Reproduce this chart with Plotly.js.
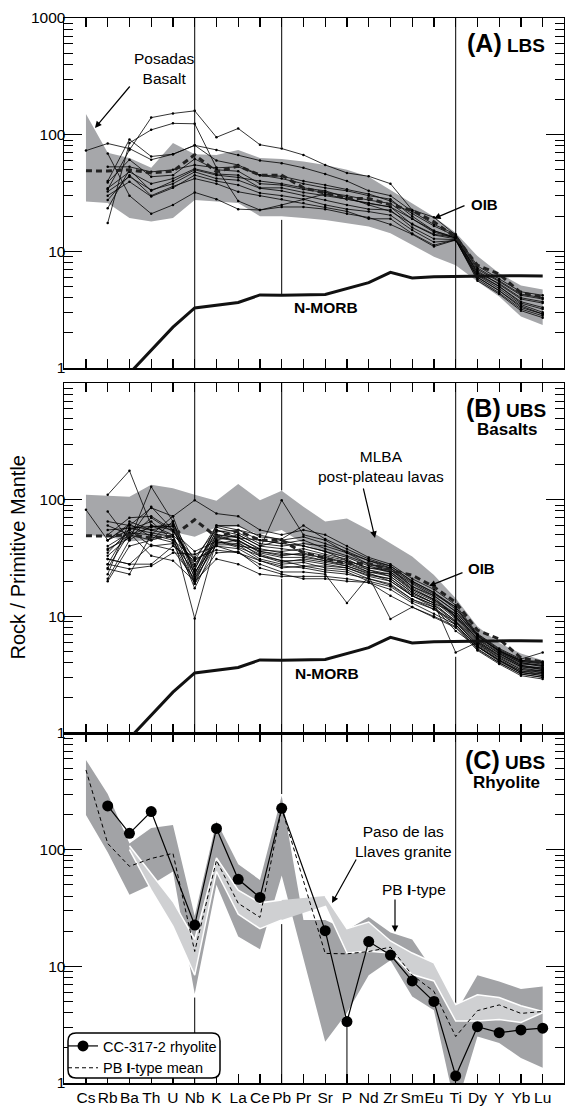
<!DOCTYPE html>
<html><head><meta charset="utf-8">
<script src="https://cdn.plot.ly/plotly-3.0.1.min.js"></script>
<style>html,body{margin:0;padding:0;background:#fff;}#chart{width:565px;height:1118px;}</style>
</head><body><div id="chart"></div>
<script>
// ---------------- DATA ----------------
const elements = ['Cs','Rb','Ba','Th','U','Nb','K','La','Ce','Pb','Pr','Sr','P','Nd','Zr','Sm','Eu','Ti','Dy','Y','Yb','Lu'];
const yTickVals = [1,10,100,1000];
const yTickTextA = ['1','10','100','1000'];
const yTickTextBC = ['1','10','100',''];
const yMinorVals = [2,3,4,5,6,7,8,9,20,30,40,50,60,70,80,90,200,300,400,500,600,700,800,900];

// reference compositions (normalised to primitive mantle)
const nmorb = [0.22,0.88,0.9,1.41,2.24,3.27,null,3.64,4.23,4.2,null,4.27,null,5.39,6.6,5.92,6.07,6.1,6.17,6.15,6.19,6.15];
const oib   = [49,48.8,50,47,48.6,67.3,48,53.9,45,45,35,31.3,28.4,28.4,25,22.5,17.9,13.2,7.6,6.4,4.4,4.05];

// (A) LBS - Posadas Basalt field and samples
const fieldA_upper = [150,70,63,52,85,68,67,74,63,62,59,55,50,43.6,33.6,26,19.8,14.4,9.1,6.5,5.1,4.7];
const fieldA_lower = [26.7,26,19.3,18,19.3,27.5,26.7,26,20,20,19.3,18.6,17.5,16.3,14.3,11.3,9,7.6,5.5,4.1,2.76,2.34];
const lbs1  = [null,34,74,140,152,160,95,113,82,76,67,55,47,44,38,22.6,19.6,13.8,7.2,5.6,4.3,4.0];
const lbs2  = [null,17.5,85,110,125,124,52,27,22.6,25,28,31,28,26,24,19,15,13.2,6.5,5.0,3.7,3.3];
const lbs3  = [73,84,76,61,68,81,74,67,60,57,52,46,40,33,30,22,17,14,7.5,5.8,4.5,4.2];
const lbs4  = [null,69,30,21,25,32,28,23,22.6,24,24,23,21,19.5,17,14,11,12.5,6.0,4.6,3.3,2.9];
const lbs5  = [null,53,53,48,50,55,52,53,45,42,38,35,33,30,28,20,15,13,6.8,5.2,3.9,3.6];
const lbs6  = [null,39,61,43.6,45,62,50,48.6,38,37,34,32,30,27.5,25.7,19,14.6,13,6.3,5.0,3.6,3.2];
const lbs7  = [null,34.7,48,38,42,51,46,45,35,35,32,30,28,25.7,24,17,13.8,12.8,6.2,4.8,3.5,3.0];
const lbs8  = [null,32.5,43.6,33.6,38,48,42,40.7,34.7,33,30,27.5,25,23,22.6,16,12.8,12.6,6.0,4.6,3.4,2.9];
const lbs9  = [null,30,39.5,29.5,35,45,40,37,31.6,30,28,25,23,21.9,20.4,15.2,12,12.4,5.8,4.4,3.2,2.8];
const lbs10 = [null,27.5,45,30,36,42,38,32.4,30,28,26,24,22,19,19,14.2,11.3,12.6,5.6,4.3,3.1,2.7];
const lbs11 = [null,23.4,50,33,40,50,45,43,40,38,35,33,29,25,22,17.2,14,13.2,6.6,5.3,4.0,3.7];
const lbs12 = [null,40,91,65,68,81,60,55,45,44,40,37,34,31,27,21,16.5,13.5,7.0,5.5,4.2,3.9];

// (B) UBS basalts - MLBA post-plateau lavas field and samples
const fieldB_upper = [110,108,106,134,125,110,98,136,99,119,87,65,69,55,42,32.5,22.6,14.3,8.2,5.9,4.8,4.2];
const fieldB_lower = [50,48,44,45,53,48,58,58.6,50,55,42,35,32,27,23,18,14.8,9.3,6.7,4.8,3.6,3.2];
const ubs1  = [82,45,60,55,50,32,55,50,40,45,40,36,30,26,24,17,14,10,6.2,4.6,3.7,3.6];
const ubs2  = [null,110,177,60,55,25,60,55,45,42,45,38,33,28,26,18,15,11,6.8,5,4.2,4.0];
const ubs3  = [null,79,45,129,65,21,50,48,37,36,38,34,31,25,22,16,13,10.5,6.3,4.8,3.9,3.8];
const ubs4  = [null,65,60,85,72,99,76,72,55,50,55,50,40,32,28,21,17,12.5,7.1,5.3,4.3,4.9];
const ubs5  = [null,55,57,59,59,19,48,45,36,33,35,31,29,24,23,16.5,13.5,9.5,6,4.5,3.6,3.4];
const ubs6  = [null,45,55,65,45,20,45,50,40,38,36,33,30,26,25,18,14.5,10,6.5,4.9,4.0,3.7];
const ubs7  = [null,40,52,50,72,23,55,47,38,99,50,45,35,28,25,19,15,11,6.6,5.1,4.1,3.9];
const ubs8  = [null,37,50,45,50,17.4,42,45,35,32,32,30,27,23,21,15.5,13,9,5.8,4.4,3.5,3.3];
const ubs9  = [null,33,48,87,55,28,50,43,33,30,30,28,26,22,20,15,12.5,8.8,5.7,4.3,3.4,3.2];
const ubs10 = [null,31,28,41,37,21,41,41,31,28,29,26,25,21,19,14,12,8.5,5.5,4.1,3.3,3.1];
const ubs11 = [null,28,25.5,27,35,34,40,38,30,26,27,25,24,20,18,13.5,11.5,9,5.6,4.2,3.4,3.3];
const ubs12 = [null,25.5,23,50,45,31,37,35,28,24,24,23,13,22,9.5,12,10,8.2,5.3,4.0,3.2,3.0];
const ubs13 = [null,23,65,55,60,25.5,58,52,42,40,42,40,35,30,27,20,16,11.5,6.9,5.1,4.1,4.0];
const ubs14 = [null,21,45,60,50,9.6,45,40,38,35,33,30,28,24,22,16,13,4.9,6.0,4.6,3.7,3.5];
const ubs15 = [null,20,40,45,65,23,50,47,45,42,40,36,32,27,24,17.5,14,10.5,6.4,4.8,3.8,3.5];
const ubs16 = [null,50,70,72,55,27,53,55,50,45,48,42,36,30,26,19.5,15.5,12,7.0,5.2,4.2,4.1];
const ubs17 = [null,35,55,40,42,19,35,36,26,23,21,21,20,19.5,15,12,9.8,8,5.1,3.9,3.1,2.9];
const ubs18 = [null,60,50,58,62,30,60,60,48,46,60,46,38,31,27,20,16,12,6.8,5,4,3.8];
const ubs19 = [null,28,57,52,48,22,47,44,36,34,34,32,29,25,23,17,13.8,9.8,6.1,4.7,3.8,3.6];
const ubs20 = [null,45,62,48,43,24,43,42,34,30,27,27,26,22.5,21,15,12.5,9.2,5.9,4.4,3.5,3.4];
const ubs21 = [null,38,47,70,53,36,44,39,33,29,31,29,27,23.5,20,15,12,7.5,5.5,4.2,3.3,3.1];
const ubs22 = [null,26,52,33,30,20,31,28,23,22,22,22,21,19.5,17,13,10.5,8.5,5.2,4.0,3.2,3.0];
const ubs23 = [null,31,28,28,40,30,40,35,30,27,26,24,23,21,18.5,14,11.5,8.5,5.5,4.2,3.3,3.2];

// (C) UBS rhyolite
const pbField_upper  = [588,300,113,153,163,27,175,75,55,290,25,25,20.5,26.5,19.5,17,9,4,8.4,7.4,6.4,6.7];
const pbField_lower  = [198,95,41,50,65,5.8,50,18,14,60,null,2.26,4,8.4,11.3,5.5,4.2,0.6,2.5,2.2,1.64,1.35];
const pllField_upper = [null,null,108,62,36,17,85,45,35,37,null,40,21,24,16.5,13,10.7,4.7,5.7,5.4,4.6,4.1];
const pllField_lower = [null,null,100,45,22,8.4,65,28,21,25,null,33,13,13.5,13,8.5,7.5,3.4,3.4,3.5,3.3,4.0];
const pbItypeMean = [482,113,72,84,93,13.4,81,34.7,26.3,226,null,12.9,12.8,13.4,14.6,8.4,6.1,2.5,4.17,4.67,3.95,4.1];
const cc3172 = [null,237,138,212,null,22.6,152,55.7,39,226,null,20.2,3.36,16.3,12.5,7.5,5.0,1.15,3.04,2.7,2.85,2.95];

// vertical guide lines: element -> visible value segments per panel
const guidesA = {Nb:[[1,1000]], Pb:[[78,1000],[4.2,18.6]], Ti:[[1,1000]]};
const guidesB = {Nb:[[100,1000],[1,9.5]], Pb:[[120,1000],[1,21]], Ti:[[13,1000],[1,4.5]]};
const guidesC = {Nb:[[1,5.4]], Pb:[[300,1000],[1,23]], Ti:[[4.8,1000]], P:[[1,3.36]]};

const lbsSamples = [lbs1,lbs2,lbs3,lbs4,lbs5,lbs6,lbs7,lbs8,lbs9,lbs10,lbs11,lbs12];
const ubsSamples = [ubs1,ubs2,ubs3,ubs4,ubs5,ubs6,ubs7,ubs8,ubs9,ubs10,ubs11,ubs12,ubs13,ubs14,ubs15,ubs16,ubs17,ubs18,ubs19,ubs20,ubs21,ubs22,ubs23];

// ---------------- LAYOUT HELPERS ----------------
const FONT = 'Liberation Sans, Arial, Helvetica, sans-serif';
const W = 565, H = 1118, ML = 64, MR = 1, MT = 18, MB = 35;
const PW = W - ML - MR, PH = H - MT - MB;
const px2x = x => (x - ML) / PW;
const py2y = y => (H - MB - y) / PH;
const AX = {A:['x3','y3'], B:['x2','y2'], C:['x','y']};

const traces = [];
function lineTrace(panel, y, extra){
  return Object.assign({type:'scatter', mode:'lines', x:elements, y:y,
    xaxis:AX[panel][0], yaxis:AX[panel][1], showlegend:false, hoverinfo:'skip', connectgaps:true}, extra);
}
function fieldTrace(panel, upper, lower, color){
  const xs = [], ys = [];
  elements.forEach((e,i)=>{ if(upper[i]!=null){ xs.push(e); ys.push(upper[i]); } });
  for(let i=elements.length-1;i>=0;i--){ if(lower[i]!=null){ xs.push(elements[i]); ys.push(lower[i]); } }
  return {type:'scatter', mode:'lines', x:xs, y:ys, fill:'toself', fillcolor:color,
    line:{width:0, color:color}, xaxis:AX[panel][0], yaxis:AX[panel][1], showlegend:false, hoverinfo:'skip'};
}
function guideTrace(panel, guides){
  const xs = [], ys = [];
  Object.keys(guides).forEach(el=>{
    guides[el].forEach(seg=>{ xs.push(el, el, el); ys.push(seg[0], seg[1], null); });
  });
  return {type:'scatter', mode:'lines', x:xs, y:ys, connectgaps:false, line:{color:'#000', width:1},
    xaxis:AX[panel][0], yaxis:AX[panel][1], showlegend:false, hoverinfo:'skip'};
}

const GREY = '#a6a7aa';
// Panel A
traces.push(fieldTrace('A', fieldA_upper, fieldA_lower, GREY));
traces.push(guideTrace('A', guidesA));
lbsSamples.forEach(s => traces.push(lineTrace('A', s, {mode:'lines+markers', connectgaps:false,
  line:{color:'#000', width:0.8}, marker:{color:'#000', size:2.5}})));
traces.push(lineTrace('A', oib, {line:{color:'#222', width:3, dash:'6px,4px'}}));
traces.push(lineTrace('A', nmorb, {line:{color:'#111', width:3}}));
// Panel B
traces.push(fieldTrace('B', fieldB_upper, fieldB_lower, GREY));
traces.push(guideTrace('B', guidesB));
ubsSamples.forEach(s => traces.push(lineTrace('B', s, {mode:'lines+markers', connectgaps:false,
  line:{color:'#000', width:0.8}, marker:{color:'#000', size:2.5}})));
traces.push(lineTrace('B', oib, {line:{color:'#222', width:3, dash:'6px,4px'}}));
traces.push(lineTrace('B', nmorb, {line:{color:'#111', width:3}}));
// Panel C
traces.push(guideTrace('C', guidesC));
traces.push(fieldTrace('C', pbField_upper, pbField_lower, '#a2a3a6'));
traces.push(fieldTrace('C', pllField_upper, pllField_lower, '#cfd0d2'));
traces.push(lineTrace('C', pllField_upper, {connectgaps:false, line:{color:'#fff', width:1.5}}));
traces.push(lineTrace('C', pllField_lower, {connectgaps:false, line:{color:'#fff', width:1.5}}));
traces.push(lineTrace('C', cc3172, {name:'CC-317-2 rhyolite', showlegend:true, mode:'lines+markers',
  line:{color:'#000', width:1.2}, marker:{color:'#000', size:11}}));
traces.push(lineTrace('C', pbItypeMean, {name:'PB <b>I</b>-type mean', showlegend:true,
  line:{color:'#000', width:1, dash:'4px,3px'}}));

function xAxis(anchor, labels){
  return {type:'category', categoryorder:'array', categoryarray:elements, range:[-1.01,21.98],
    anchor:anchor, showline:true, linecolor:'#000', linewidth:1.5, mirror:'ticks',
    ticks:'inside', ticklen:9, tickwidth:1.2, tickcolor:'#000', showgrid:false, zeroline:false,
    showticklabels:labels, tickangle:0, tickfont:{family:FONT, size:15.5, color:'#000'}, fixedrange:true};
}
function yAxis(anchor, domain, ticktext){
  return {type:'log', range:[0,3], domain:domain, anchor:anchor, showline:true, linecolor:'#000',
    linewidth:1.5, mirror:'ticks', ticks:'inside', ticklen:18, tickwidth:1.2, tickcolor:'#000',
    tickmode:'array', tickvals:yTickVals, ticktext:ticktext, showgrid:false, zeroline:false,
    ticklabelstandoff:-6,
    tickfont:{family:FONT, size:15.5, color:'#000'}, fixedrange:true,
    minor:{tickmode:'array', tickvals:yMinorVals, ticks:'inside', ticklen:9, tickwidth:1, tickcolor:'#000', showgrid:false}};
}

const ann = [];
function txt(text, x, y, opts){
  ann.push(Object.assign({text:text, x:px2x(x), y:py2y(y), xref:'paper', yref:'paper', showarrow:false,
    font:{family:FONT, size:15.5, color:'#000'}, xanchor:'left', yanchor:'middle'}, opts||{}));
}
function arrow(x0,y0,x1,y1){
  ann.push({text:'', x:px2x(x1), y:py2y(y1), xref:'paper', yref:'paper', showarrow:true,
    ax:x0-x1, ay:y0-y1, arrowhead:2, arrowsize:1.1, arrowwidth:1.2, arrowcolor:'#000', standoff:0, startstandoff:0});
}
const big = s => "<b><span style='font-size:25px'>"+s+"</span></b>";
txt(big('(A)')+' <b>LBS</b>', 547, 43, {xanchor:'right', font:{family:FONT, size:19, color:'#000'}});
txt(big('(B)')+' <b>UBS</b>', 548, 408, {xanchor:'right', font:{family:FONT, size:19, color:'#000'}});
txt('<b>Basalts</b>', 507, 430, {xanchor:'center', font:{family:FONT, size:17, color:'#000'}});
txt(big('(C)')+' <b>UBS</b>', 547, 760, {xanchor:'right', font:{family:FONT, size:19, color:'#000'}});
txt('<b>Rhyolite</b>', 506, 782, {xanchor:'center', font:{family:FONT, size:17, color:'#000'}});
txt('Posadas<br>Basalt', 132, 68.5);
arrow(131,85, 95,128);
txt('<b>OIB</b>', 469, 204, {font:{family:FONT, size:15, color:'#000'}});
arrow(466,205, 434,218.5);
txt('<b>N-MORB</b>', 291.5, 307, {font:{family:FONT, size:15.5, color:'#000'}});
txt('MLBA<br>post-plateau lavas', 315.5, 467);
arrow(363,487, 375,538);
txt('<b>OIB</b>', 466, 568.5, {font:{family:FONT, size:15, color:'#000'}});
arrow(464,572, 429,586);
txt('<b>N-MORB</b>', 293, 673, {font:{family:FONT, size:15.5, color:'#000'}});
txt('Paso de las<br>Llaves granite', 353, 841);
arrow(357,858, 332,903);
txt('PB <b>I</b>-type', 380, 889);
arrow(395,898, 395,932);
txt('Rock / Primitive Mantle', 18, 557.5, {xanchor:'center', textangle:-90, font:{family:FONT, size:20, color:'#000'}});

function roundRect(x0,y0,x1,y1,r){
  const X = px2x, Y = py2y;
  return 'M '+X(x0+r)+','+Y(y0)+' L '+X(x1-r)+','+Y(y0)+' Q '+X(x1)+','+Y(y0)+' '+X(x1)+','+Y(y0+r)+
    ' L '+X(x1)+','+Y(y1-r)+' Q '+X(x1)+','+Y(y1)+' '+X(x1-r)+','+Y(y1)+
    ' L '+X(x0+r)+','+Y(y1)+' Q '+X(x0)+','+Y(y1)+' '+X(x0)+','+Y(y1-r)+
    ' L '+X(x0)+','+Y(y0+r)+' Q '+X(x0)+','+Y(y0)+' '+X(x0+r)+','+Y(y0)+' Z';
}

const layout = {
  width:W, height:H, margin:{l:ML, r:MR, t:MT, b:MB, pad:0},
  paper_bgcolor:'#fff', plot_bgcolor:'rgba(0,0,0,0)',
  font:{family:FONT, color:'#000'},
  xaxis: xAxis('y', true),
  xaxis2: xAxis('y2', false),
  xaxis3: xAxis('y3', false),
  yaxis: yAxis('x', [0, py2y(733)], yTickTextBC),
  yaxis2: yAxis('x2', [py2y(733), py2y(383)], yTickTextBC),
  yaxis3: yAxis('x3', [py2y(368), 1], yTickTextA),
  showlegend:true,
  legend:{x:px2x(63), y:py2y(1030), xanchor:'left', yanchor:'top', bgcolor:'rgba(0,0,0,0)', borderwidth:0,
    font:{family:FONT, size:14.5, color:'#000'}, itemwidth:30, tracegroupgap:0, traceorder:'normal'},
  annotations: ann,
  shapes:[{type:'path', xref:'paper', yref:'paper', path:roundRect(68,1033,220,1078,8),
    line:{color:'#000', width:1.5}, fillcolor:'#fff', layer:'above'}]
};

Plotly.newPlot('chart', traces, layout, {staticPlot:true, displayModeBar:false});
</script>
</body></html>
